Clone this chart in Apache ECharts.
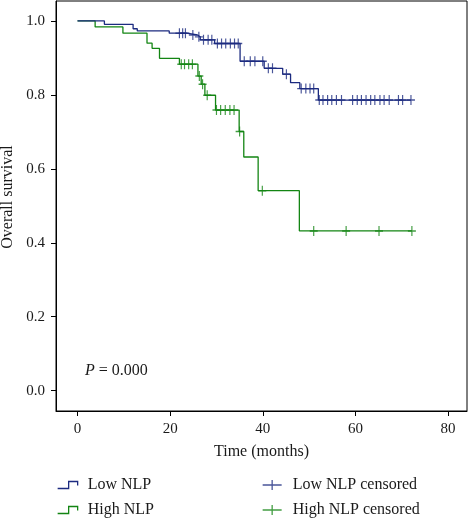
<!DOCTYPE html>
<html><head><meta charset="utf-8">
<script src="https://cdn.jsdelivr.net/npm/echarts@6/dist/echarts.min.js"></script>
<style>html,body{margin:0;padding:0;background:#fff}#c{width:471px;height:518px}</style>
</head><body><div id="c"></div>
<script>
// Kaplan-Meier step data (time in months, survival after the drop)
const lowTimes = [0, 5.8, 12.0, 12.9, 19.8, 23.6, 25.9, 26.5, 29.6, 35.1, 40.3, 44.3, 46.0, 48.0, 52.0];
const lowSurv  = [1.0, 0.991, 0.979, 0.973, 0.967, 0.962, 0.957, 0.949, 0.939, 0.891, 0.872, 0.856, 0.833, 0.817, 0.786];
const lowEnd = 72.0;
const lowCensored = [22.0, 22.7, 23.3, 24.9, 26.2, 27.2, 28.2, 29.0, 30.2, 31.1, 32.0, 33.0, 33.9, 34.7, 36.0, 37.3, 38.3, 40.0, 41.2, 42.1, 45.1, 48.3, 49.3, 50.2, 51.0, 52.2, 53.0, 54.0, 54.9, 55.9, 57.0, 59.4, 60.4, 61.3, 62.3, 63.3, 64.2, 65.3, 66.2, 67.3, 69.3, 70.2, 72.0];

const highTimes = [0, 3.8, 9.8, 15.0, 16.1, 17.7, 22.0, 26.0, 26.7, 27.5, 29.8, 34.9, 35.9, 39.0, 47.9];
const highSurv  = [1.0, 0.984, 0.967, 0.940, 0.926, 0.899, 0.883, 0.851, 0.829, 0.799, 0.759, 0.701, 0.632, 0.541, 0.432];
const highEnd = 72.2;
const highCensored = [22.4, 23.1, 24.0, 24.8, 26.3, 27.0, 28.0, 30.0, 30.9, 31.9, 32.9, 33.8, 35.0, 39.9, 51.0, 58.0, 65.1, 72.2];

const xTicks = [0, 20, 40, 60, 80];
const yTicks = [0, 0.2, 0.4, 0.6, 0.8, 1.0];
const seriesNames = ['Low NLP', 'High NLP', 'Low NLP censored', 'High NLP censored'];

const BLUE = '#1c2b80';
const GREEN = '#138513';
const FONT = '"Liberation Serif", "DejaVu Serif", serif';
const TXT = '#1a1a1a';

function survivalAt(times, surv, t) {
  let s = surv[0];
  for (let i = 0; i < times.length; i++) if (times[i] <= t) s = surv[i];
  return s;
}
function stepData(times, surv, end) {
  return times.map((t, i) => [t, surv[i]]).concat([[end, surv[surv.length - 1]]]);
}
function censorData(cens, times, surv) {
  return cens.map(t => [t, survivalAt(times, surv, t)]);
}

const PLUS = 'path://M0,5L10,5M5,0L5,10';
const PLUS_LEG = 'path://M0,5L19,5M9.5,0L9.5,10';
const STEP = 'path://M0,7L11,7L11,0L20,0L20,4';

const chart = echarts.init(document.getElementById('c'));
chart.setOption({
  animation: false,
  backgroundColor: '#fff',
  grid: { left: 56, top: 1, right: 4, bottom: 107, show: true, borderColor: '#000', borderWidth: 1, outerBoundsMode: 'none' },
  xAxis: {
    type: 'value', min: -4.65, max: 84.1,
    name: 'Time (months)', nameLocation: 'middle', nameGap: 33,
    nameTextStyle: { fontFamily: FONT, fontSize: 16, color: TXT },
    axisLine: { show: true, onZero: false, lineStyle: { color: '#000', width: 1 } },
    axisTick: { show: true, length: 5, lineStyle: { color: '#000' }, customValues: xTicks },
    axisLabel: { customValues: xTicks, fontFamily: FONT, fontSize: 15, color: TXT, margin: 11 },
    splitLine: { show: false }
  },
  yAxis: {
    type: 'value', min: -0.055, max: 1.054,
    name: 'Overall survival', nameLocation: 'middle', nameGap: 38,
    nameTextStyle: { fontFamily: FONT, fontSize: 16, color: TXT, padding: [0, 0, 0, 18] },
    axisLine: { show: true, onZero: false, lineStyle: { color: '#000', width: 1 } },
    axisTick: { show: true, length: 5, lineStyle: { color: '#000' }, customValues: yTicks },
    axisLabel: { customValues: yTicks, formatter: v => v.toFixed(1), fontFamily: FONT, fontSize: 15, color: TXT, margin: 11 },
    splitLine: { show: false }
  },
  legend: [
    {
      left: 57, top: 477, height: 46, orient: 'vertical', padding: 0, itemWidth: 20, itemHeight: 7, itemGap: 9, selectedMode: false,
      textStyle: { fontFamily: FONT, fontSize: 16, color: TXT, padding: [0, 0, 0, 5] },
      data: [
        { name: seriesNames[0], icon: STEP, itemStyle: { color: 'rgba(0,0,0,0)', borderColor: BLUE, borderWidth: 1.3 } },
        { name: seriesNames[1], icon: STEP, itemStyle: { color: 'rgba(0,0,0,0)', borderColor: GREEN, borderWidth: 1.3 } }
      ]
    },
    {
      left: 262, top: 477, height: 46, orient: 'vertical', padding: 0, itemWidth: 19, itemHeight: 10, itemGap: 9, selectedMode: false,
      textStyle: { fontFamily: FONT, fontSize: 16, color: TXT, padding: [0, 0, 0, 6] },
      data: [
        { name: seriesNames[2], icon: PLUS_LEG, itemStyle: { color: 'rgba(0,0,0,0)', borderColor: BLUE, borderWidth: 1.3 } },
        { name: seriesNames[3], icon: PLUS_LEG, itemStyle: { color: 'rgba(0,0,0,0)', borderColor: GREEN, borderWidth: 1.3 } }
      ]
    }
  ],
  graphic: [{
    type: 'text', left: 85, top: 363,
    style: {
      text: '{i|P} = 0.000', fontFamily: FONT, fontSize: 16, fill: TXT,
      rich: { i: { fontStyle: 'italic', fontFamily: FONT, fontSize: 16, fill: TXT } }
    }
  }],
  series: [
    { name: seriesNames[0], type: 'line', step: 'end', data: stepData(lowTimes, lowSurv, lowEnd), showSymbol: false, symbol: 'none',
      lineStyle: { color: BLUE, width: 1.3 }, itemStyle: { color: BLUE }, z: 3 },
    { name: seriesNames[1], type: 'line', step: 'end', data: stepData(highTimes, highSurv, highEnd), showSymbol: false, symbol: 'none',
      lineStyle: { color: GREEN, width: 1.3 }, itemStyle: { color: GREEN }, z: 2 },
    { name: seriesNames[2], type: 'scatter', data: censorData(lowCensored, lowTimes, lowSurv), symbol: PLUS, symbolSize: [8, 10],
      itemStyle: { color: 'rgba(0,0,0,0)', borderColor: BLUE, borderWidth: 1.3 }, z: 4 },
    { name: seriesNames[3], type: 'scatter', data: censorData(highCensored, highTimes, highSurv), symbol: PLUS, symbolSize: [8, 10],
      itemStyle: { color: 'rgba(0,0,0,0)', borderColor: GREEN, borderWidth: 1.3 }, z: 4 }
  ]
});
</script></body></html>
